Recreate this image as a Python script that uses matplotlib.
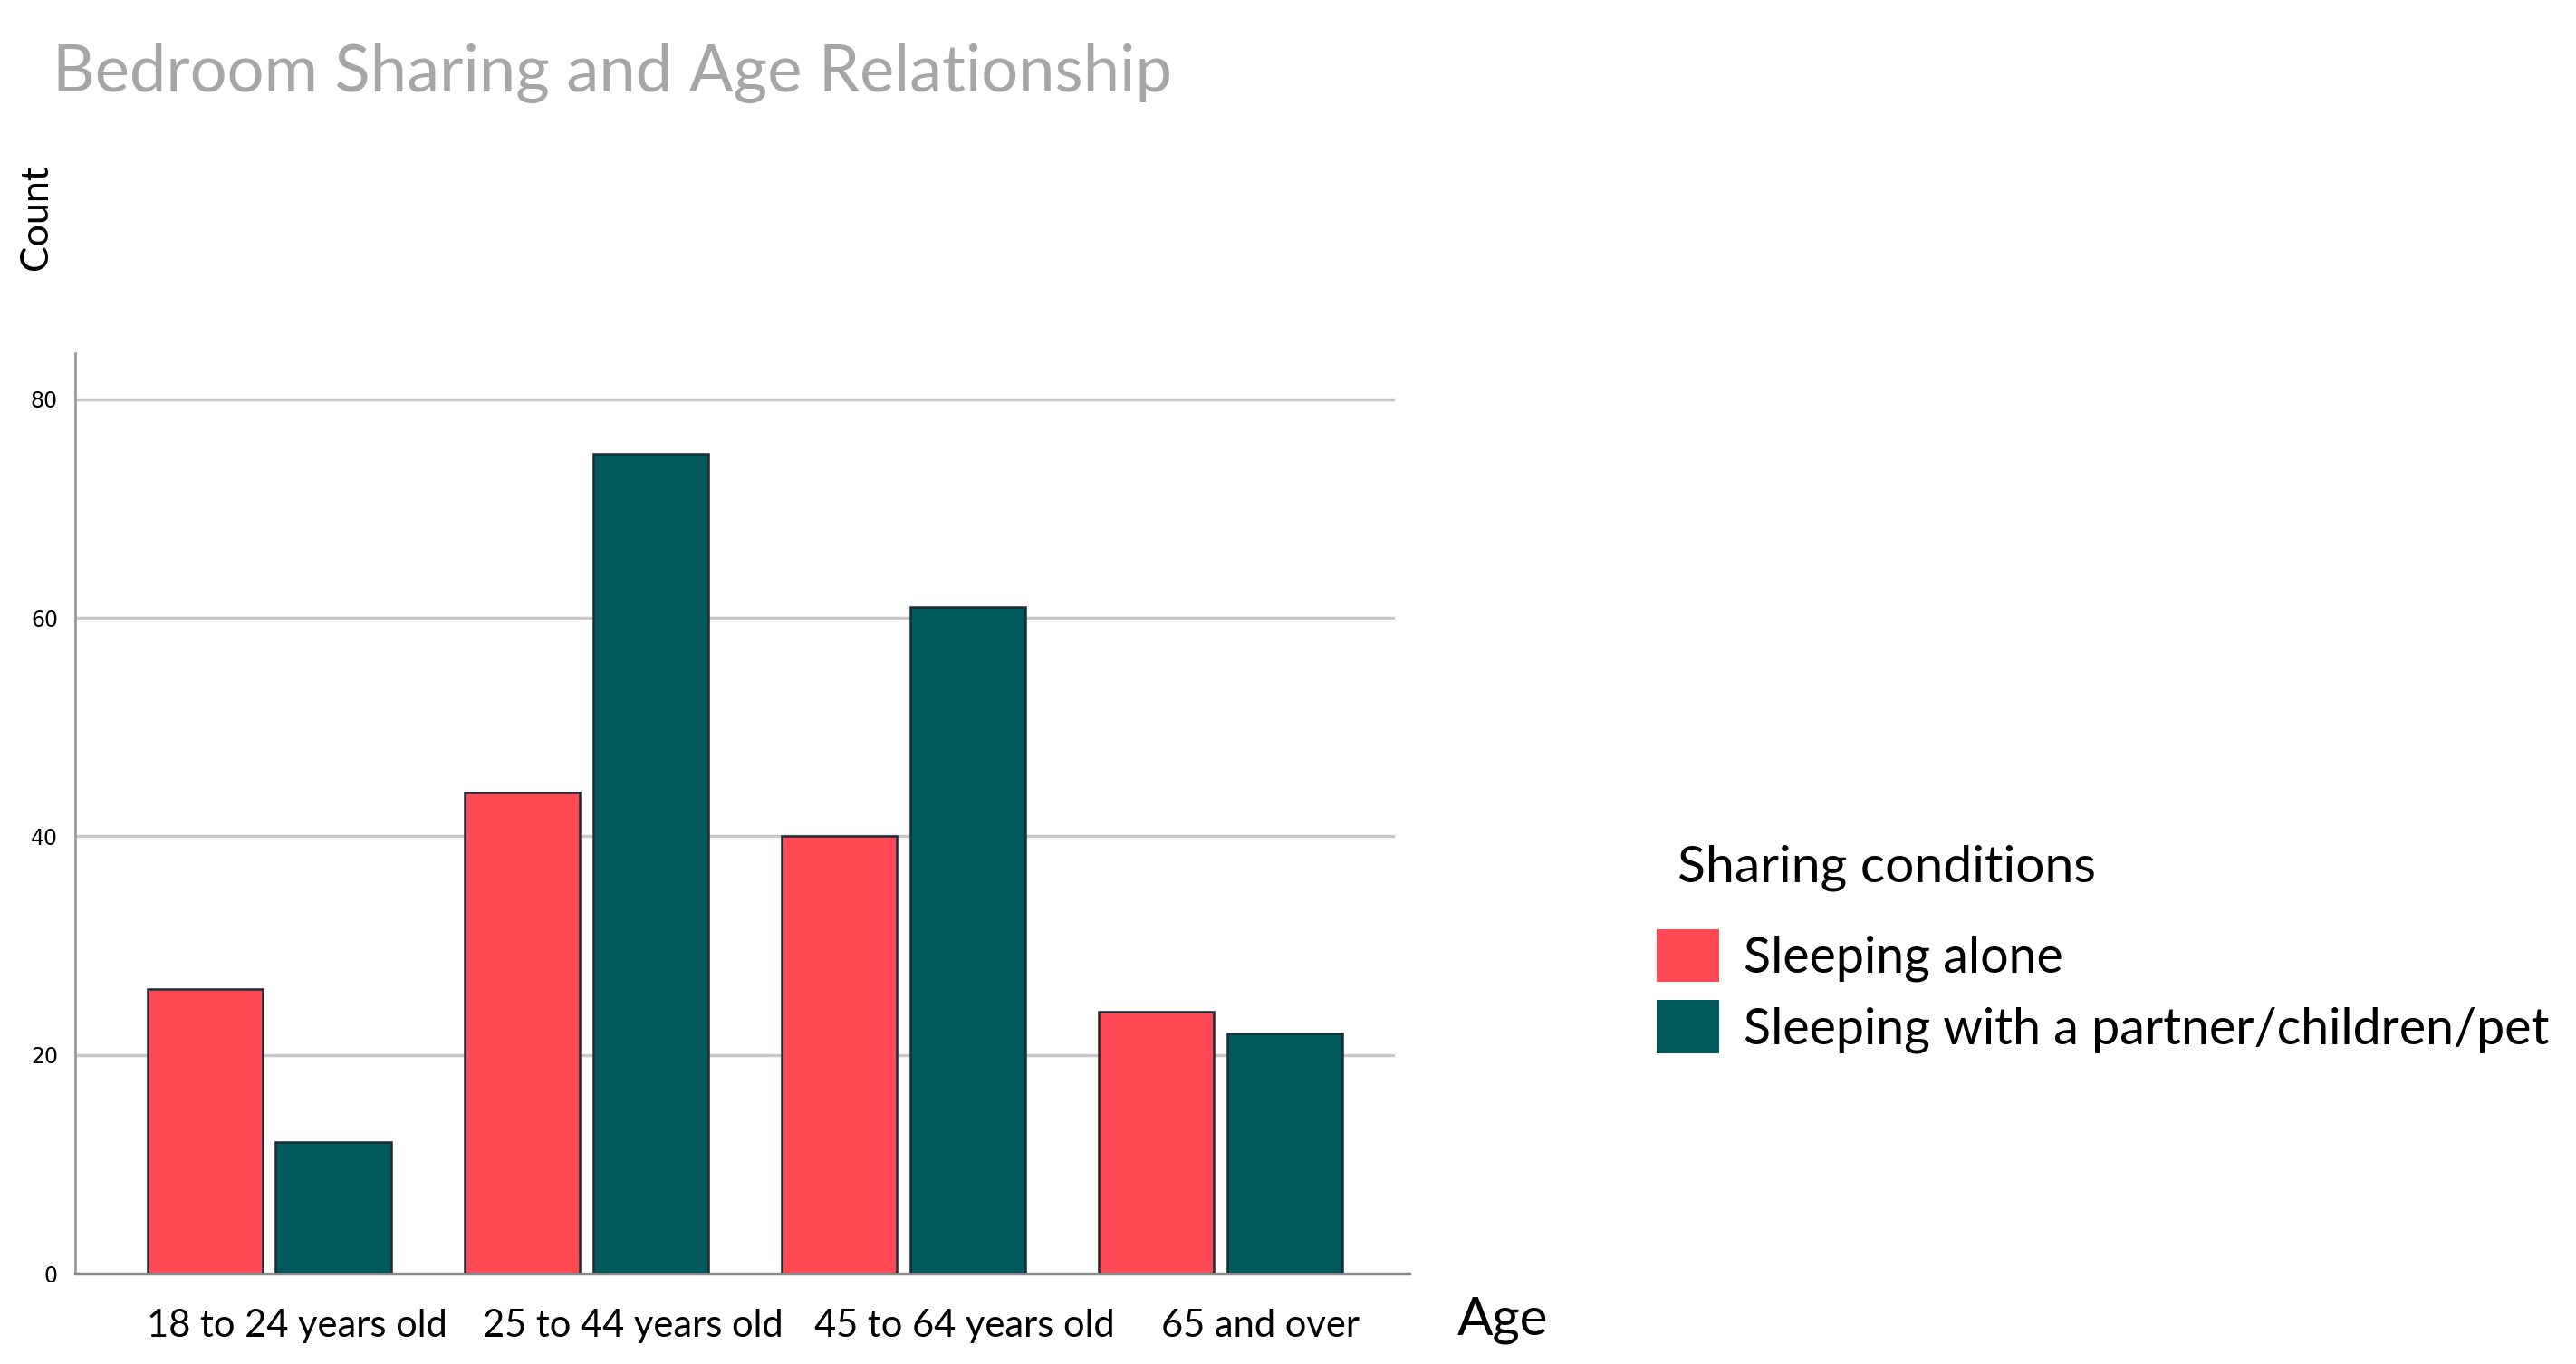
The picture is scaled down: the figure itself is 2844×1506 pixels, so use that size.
import matplotlib.pyplot as plt
import numpy as np
from matplotlib.transforms import ScaledTranslation

# Counts
age_groups = ['18 to 24 years old', '25 to 44 years old', '45 to 64 years old', '65 and over']
alone = [26, 44, 40, 24]
shared = [12, 75, 61, 22]
series_names = ['Sleeping alone', 'Sleeping with a partner/children/pet']
colors = ['#ff4a55', '#005a5b']

plt.rcParams['font.family'] = ['Lato', 'DejaVu Sans']

fig = plt.figure(figsize=(28.44, 15.06), dpi=100)
ax = fig.add_axes([0.0293, 0.0663, 0.5179, 0.6747])

x = np.arange(len(age_groups))
w = 0.363
off = 0.202
b1 = ax.bar(x - off, alone, w, color=colors[0], edgecolor='#1c2b33', linewidth=1.8,
            label=series_names[0], zorder=3)
b2 = ax.bar(x + off, shared, w, color=colors[1], edgecolor='#1c2b33', linewidth=1.8,
            label=series_names[1], zorder=3)

ax.set_xlim(-0.611, 3.596)
ax.set_ylim(0, 84.2)
ax.set_yticks([0, 20, 40, 60, 80])
ax.set_xticks(x)
ax.set_xticklabels(age_groups, fontsize=30)
for lab in ax.get_yticklabels():
    lab.set_family('DejaVu Sans')
    lab.set_fontsize(17)
ax.tick_params(axis='both', length=0, pad=14)
ax.tick_params(axis='x', pad=28)

# the category labels sit a little right of the bar groups in the original
shifts = [0.31, 0.51, 0.67, 0.44]
for lab, dx in zip(ax.get_xticklabels(), shifts):
    lab.set_transform(lab.get_transform() + ScaledTranslation(dx, 0, fig.dpi_scale_trans))

# gridlines stop a bit short of the right end, as in the original
for yv in [20, 40, 60, 80]:
    ax.plot([-0.611, 3.544], [yv, yv], color='#c8c8c8', linewidth=2.5, zorder=1)

for s in ['top', 'right']:
    ax.spines[s].set_visible(False)
ax.spines['left'].set_color('#9a9a9a')
ax.spines['left'].set_linewidth(2)
ax.spines['bottom'].set_color('#8a8a8a')
ax.spines['bottom'].set_linewidth(2.5)

fig.text(0.0204, 0.946, 'Bedroom Sharing and Age Relationship', fontsize=52,
         color='#a6a6a6', ha='left', va='center')
fig.text(0.014, 0.841, 'Count', rotation=90, fontsize=31, ha='center', va='center')
fig.text(0.5835, 0.032, 'Age', fontsize=42, ha='center', va='center')

# legend title placed separately: the gap under it is larger than the row gap
fig.text(0.6512, 0.364, 'Sharing conditions', fontsize=41, ha='left', va='center')
leg = fig.legend(handles=[b1, b2], loc='upper left', bbox_to_anchor=(0.643, 0.319),
                 frameon=False, fontsize=40, handlelength=1.25, handleheight=1.25,
                 handletextpad=0.48, labelspacing=0.36, borderpad=0, borderaxespad=0)
for h in leg.legend_handles:
    h.set_edgecolor('none')

fig.savefig('out.png', dpi=100)
